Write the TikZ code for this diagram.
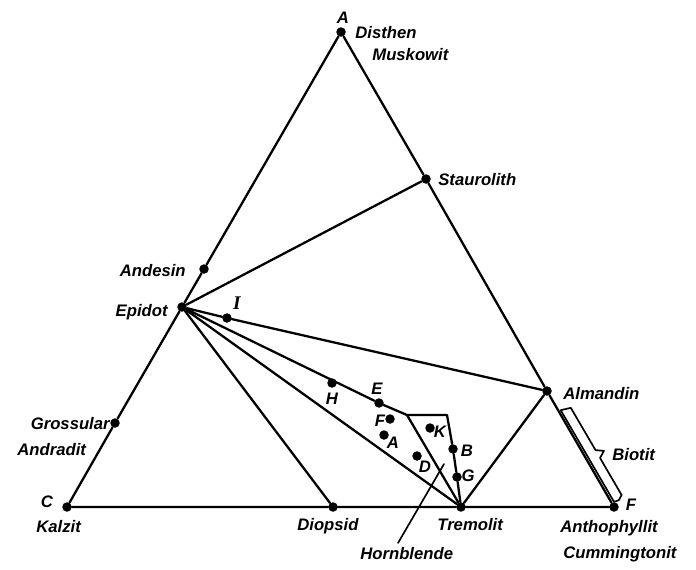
\documentclass[tikz,border=0pt]{standalone}
\usepackage{fontspec}
\setmainfont{Liberation Sans}
\newfontfamily\serifI{Liberation Serif}
\begin{document}
\begin{tikzpicture}[x=0.02cm,y=-0.02cm,
  ln/.style={line width=1.3pt},
  thinln/.style={line width=0.95pt},
  dot/.style={circle,fill,inner sep=0pt,minimum size=0.19cm},
  lab/.style={inner sep=0pt,font=\bfseries\itshape\fontsize{9.5}{10}\selectfont,text height=6.8pt,text depth=0pt},
  line join=round, line cap=round]
\useasboundingbox (0,0) rectangle (696,569);

% points
\node[dot] (A) at (341,32) {};
\node[dot] (C) at (67,507) {};
\node[dot] (F) at (614,507) {};
\node[dot] (Sta) at (426,179) {};
\node[dot] (Alm) at (547,391) {};
\node[dot] (And) at (204,269) {};
\node[dot] (Epi) at (182,307) {};
\node[dot] (Gro) at (115,423) {};
\node[dot] (Dio) at (333,507) {};
\node[dot] (Tre) at (461,507) {};
\node[dot] (pI) at (227,318) {};
\node[dot] (pH) at (332,383) {};
\node[dot] (pE) at (379,403) {};
\node[dot] (pF) at (390,419) {};
\node[dot] (pA) at (384,435) {};
\node[dot] (pK) at (430,428) {};
\node[dot] (pD) at (417,456) {};
\node[dot] (pB) at (453,449) {};
\node[dot] (pG) at (457,477) {};
\coordinate (P1) at (407,415);
\coordinate (P2) at (447,415);
\coordinate (hb) at (444,464);
\coordinate (hb2) at (398,543);

% triangle and tie lines
\draw[ln] (A) -- (Sta) -- (Alm) -- (F) -- (Tre) -- (Dio) -- (C) -- (Gro) -- (Epi) -- (And) -- (A);
\draw[ln] (Epi) -- (Sta);
\draw[ln] (Epi) -- (pI) -- (Alm);
\draw[ln] (Epi) -- (pE) -- (P1) -- (P2) -- (pB) -- (pG) -- (Tre);
\draw[ln] (P1) -- (Tre);
\draw[ln] (Epi) -- (Tre);
\draw[ln] (Epi) -- (Dio);
\draw[ln] (Tre) -- (Alm);
\draw[thinln] (hb) -- (hb2);

% Biotit brace
\coordinate (b1) at (560.7,410.2);
\coordinate (b2) at (570.8,407.8);
\coordinate (b3) at (595.5,450.1);
\coordinate (b4) at (604.0,450.9);
\coordinate (b5) at (600.0,457.9);
\coordinate (b6) at (621.6,495.0);
\coordinate (b7) at (618.8,500.2);
\coordinate (b8) at (614.0,501.8);
\draw[thinln] (b1) -- (b2) -- (b3) -- (b4) -- (b5) -- (b6) -- (b7) -- (b8) -- cycle;

% labels
\node[lab] (tA) at (343,18) {A};
\node[lab,anchor=west] (tDis) at (355,33) {Disthen};
\node[lab,anchor=west] (tMus) at (372,55) {Muskowit};
\node[lab,anchor=west] (tSta) at (438,180) {Staurolith};
\node[lab,anchor=east] (tAnd) at (186,271) {Andesin};
\node[lab,anchor=east] (tEpi) at (168,311) {Epidot};
\node[lab,font=\serifI\bfseries\itshape\fontsize{11}{11}\selectfont] (tI) at (237,304) {I};
\node[lab,anchor=west] (tAlm) at (563,394) {Almandin};
\node[lab,anchor=east] (tGro) at (110,424) {Grossular};
\node[lab,anchor=west] (tAdr) at (17,450) {Andradit};
\node[lab,anchor=west] (tBio) at (612,455) {Biotit};
\node[lab] (tC) at (47,502) {C};
\node[lab,anchor=west] (tKal) at (36,527) {Kalzit};
\node[lab,anchor=west] (tDio) at (297,525) {Diopsid};
\node[lab,anchor=west] (tTre) at (437,525) {Tremolit};
\node[lab] (tF) at (631,505) {F};
\node[lab,anchor=west] (tAnt) at (560,527) {Anthophyllit};
\node[lab,anchor=west] (tCum) at (563,553) {Cummingtonit};
\node[lab,anchor=west] (tHor) at (360,554) {Hornblende};
\node[lab] (sE) at (377,389) {E};
\node[lab] (sH) at (332,399) {H};
\node[lab] (sF) at (380,421) {F};
\node[lab] (sA) at (393,443) {A};
\node[lab] (sK) at (440,432) {K};
\node[lab] (sB) at (467,451) {B};
\node[lab] (sD) at (425,467) {D};
\node[lab] (sG) at (468,476) {G};
\end{tikzpicture}
\end{document}
